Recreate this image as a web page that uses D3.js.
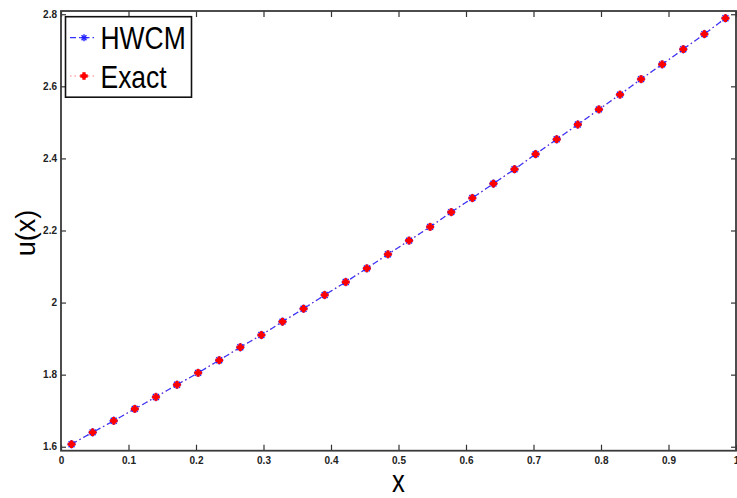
<!DOCTYPE html>
<html><head><meta charset="utf-8">
<script src="https://cdn.jsdelivr.net/npm/d3@7"></script>
<style>body{margin:0;background:#fff}svg{display:block}</style>
</head><body>
<script>
const xValues = [1,3,5,7,9,11,13,15,17,19,21,23,25,27,29,31,33,35,37,39,41,43,45,47,49,51,53,55,57,59,61,63].map(k => k/64);
const hwcm = [1.607,1.640,1.672,1.705,1.738,1.772,1.805,1.840,1.876,1.910,1.947,1.983,2.021,2.057,2.095,2.134,2.172,2.210,2.251,2.290,2.330,2.370,2.412,2.453,2.494,2.536,2.577,2.620,2.661,2.703,2.745,2.789];
const exact = [1.607,1.640,1.672,1.705,1.738,1.772,1.805,1.840,1.876,1.910,1.947,1.983,2.021,2.057,2.095,2.134,2.172,2.210,2.251,2.290,2.330,2.370,2.412,2.453,2.494,2.536,2.577,2.620,2.661,2.703,2.745,2.789];
const xTicks = [0,0.1,0.2,0.3,0.4,0.5,0.6,0.7,0.8,0.9,1];
const yTicks = [1.6,1.8,2.0,2.2,2.4,2.6,2.8];
const seriesNames = ["HWCM","Exact"];

const W = 737, H = 498;
const L = 61, R = 736, T = 11, B = 450.7;
const FONT = "'Liberation Sans',Arial,sans-serif";

const svg = d3.select("body").append("svg").attr("width", W).attr("height", H);
const x = d3.scaleLinear().domain([0,1]).range([L,R]);
const y = d3.scaleLinear().domain([1.589,2.809]).range([B,T]);

// axes (ticks inside)
const fmt = d => d3.format("~g")(+d.toFixed(1));
const gx = svg.append("g").attr("transform",`translate(0,${B})`)
  .call(d3.axisBottom(x).tickValues(xTicks).tickSize(-6).tickPadding(6).tickFormat(fmt));
const gxt = svg.append("g").attr("transform",`translate(0,${T})`)
  .call(d3.axisTop(x).tickValues(xTicks).tickSize(-6).tickFormat(""));
const gy = svg.append("g").attr("transform",`translate(${L},0)`)
  .call(d3.axisLeft(y).tickValues(yTicks).tickSize(-5).tickPadding(4).tickFormat(fmt));
const gyr = svg.append("g").attr("transform",`translate(${R},0)`)
  .call(d3.axisRight(y).tickValues(yTicks).tickSize(-5).tickFormat(""));
[gx,gxt,gy,gyr].forEach(g=>{
  g.select(".domain").remove();
  g.selectAll(".tick line").attr("stroke","#333").attr("stroke-width",1.2);
  g.selectAll("text").attr("font-family",FONT).attr("font-size",10).attr("font-weight","bold").attr("fill","#222");
});
svg.append("rect").attr("x",L).attr("y",T).attr("width",R-L).attr("height",B-T)
  .attr("fill","none").attr("stroke","#3a3a3a").attr("stroke-width",1.8);

// lines
const line = d3.line().x((d,i)=>x(xValues[i])).y(d=>y(d));
svg.append("path").datum(exact).attr("d",line).attr("fill","none")
  .attr("stroke","#ff8080").attr("stroke-width",1.2).attr("stroke-dasharray","1.5,3");
svg.append("path").datum(hwcm).attr("d",line).attr("fill","none")
  .attr("stroke","#3333ff").attr("stroke-width",1.2).attr("stroke-dasharray","6,3,1.5,3");

function asterisk(g, cx, cy, r, color){
  const a = [[-r,0,r,0],[0,-r,0,r],[-r*0.7,-r*0.7,r*0.7,r*0.7],[-r*0.7,r*0.7,r*0.7,-r*0.7]];
  a.forEach(s=>g.append("line").attr("x1",cx+s[0]).attr("y1",cy+s[1]).attr("x2",cx+s[2]).attr("y2",cy+s[3])
    .attr("stroke",color).attr("stroke-width",1.4));
}
function plus(g, cx, cy, r, color){
  g.append("line").attr("x1",cx-r).attr("y1",cy).attr("x2",cx+r).attr("y2",cy).attr("stroke",color).attr("stroke-width",3.2);
  g.append("line").attr("x1",cx).attr("y1",cy-r).attr("x2",cx).attr("y2",cy+r).attr("stroke",color).attr("stroke-width",3.2);
  g.append("circle").attr("cx",cx).attr("cy",cy).attr("r",2.6).attr("fill",color);
}
const mk = svg.append("g");
hwcm.forEach((v,i)=>asterisk(mk, x(xValues[i]), y(v), 4.2, "#2222ff"));
exact.forEach((v,i)=>plus(mk, x(xValues[i]), y(exact[i]), 3.8, "#ff0000"));

// legend
const lg = svg.append("g");
lg.append("rect").attr("x",65.5).attr("y",16.7).attr("width",126).attr("height",80.5)
  .attr("fill","#fff").attr("stroke","#111").attr("stroke-width",1.6);
const rows = [{name:seriesNames[0],yy:37.7},{name:seriesNames[1],yy:76}];
lg.append("line").attr("x1",70).attr("x2",97).attr("y1",rows[0].yy).attr("y2",rows[0].yy)
  .attr("stroke","#3333ff").attr("stroke-width",1.2).attr("stroke-dasharray","6,3,1.5,3");
asterisk(lg,84,rows[0].yy,3.5,"#2222ff");
lg.append("line").attr("x1",70).attr("x2",97).attr("y1",rows[1].yy).attr("y2",rows[1].yy)
  .attr("stroke","#ff8080").attr("stroke-width",1.2).attr("stroke-dasharray","1.5,3");
plus(lg,84,rows[1].yy,3.8,"#ff0000");
rows.forEach(r=>lg.append("text").attr("transform",`translate(100.5,${r.yy+11.5}) scale(0.835,1)`).text(r.name)
  .attr("font-family",FONT).attr("font-size",31.7).attr("fill","#000"));

// axis labels
svg.append("text").attr("transform",`translate(${(L+R)/2},492) scale(0.8,1)`).attr("text-anchor","middle")
  .attr("font-family",FONT).attr("font-size",32).text("x");
svg.append("text").attr("transform",`translate(34.7,233) rotate(-90)`).attr("text-anchor","middle")
  .attr("font-family",FONT).attr("font-size",27).text("u(x)");
</script>
</body></html>
